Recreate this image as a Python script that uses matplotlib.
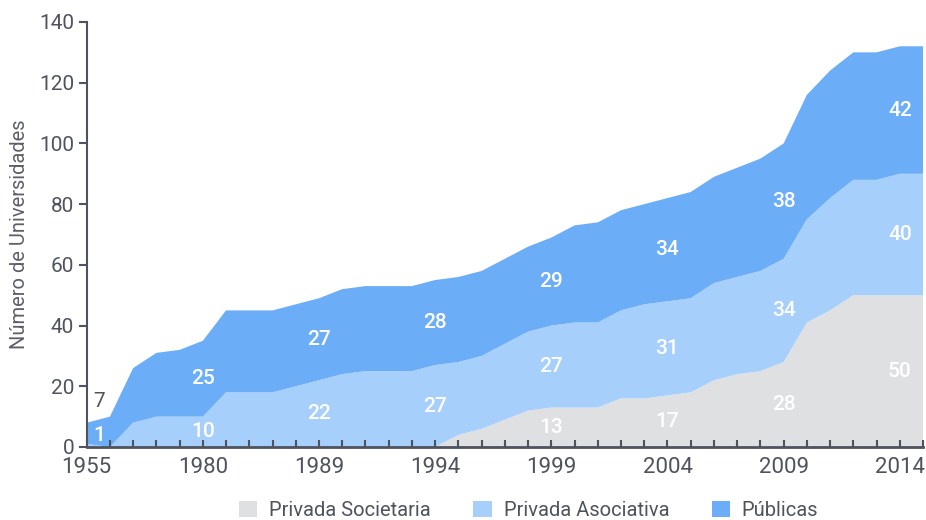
import matplotlib
matplotlib.use('Agg')
import matplotlib.pyplot as plt
from matplotlib.patches import Patch

plt.rcParams['font.family'] = ['Roboto', 'DejaVu Sans']

# one point per category along x, only every fifth one gets a label
tick_labels = ['1955', '1980', '1989', '1994', '1999', '2004', '2009', '2014']

series_names = ['Privada Societaria', 'Privada Asociativa', 'Públicas']
societaria = [0, 0, 0, 0, 0, 0, 0, 0, 0, 0, 0, 0, 0, 0, 0, 0,
              4, 6, 9, 12, 13, 13, 13, 16, 16, 17, 18, 22, 24, 25, 28,
              41, 45, 50, 50, 50, 50]
asociativa = [1, 0, 8, 10, 10, 10, 18, 18, 18, 20, 22, 24, 25, 25, 25, 27,
              24, 24, 25, 26, 27, 28, 28, 29, 31, 31, 31, 32, 32, 33, 34,
              34, 37, 38, 38, 40, 40]
publicas = [7, 10, 18, 21, 22, 25, 27, 27, 27, 27, 27, 28, 28, 28, 28, 28,
            28, 28, 28, 28, 29, 32, 33, 33, 33, 34, 35, 35, 36, 37, 38,
            41, 42, 42, 42, 42, 42]

colors = ['#dfe0e2', '#a6cffc', '#6baef7']
axis_color = '#4e535e'

fig = plt.figure(figsize=(9.26, 5.2), dpi=100)
ax = fig.add_axes([0.0936, 0.1404, 0.9032, 0.8173])

x = list(range(len(publicas)))
ax.stackplot(x, societaria, asociativa, publicas, colors=colors, linewidth=0)

ax.set_xlim(0, len(x) - 1)
ax.set_ylim(0, 140)

# value labels every fifth point, centred in each band
label_idx = list(range(0, len(x) - 1, 5))
for i in label_idx:
    bottom = 0
    for s in (societaria, asociativa, publicas):
        v = s[i]
        if v > 0 and i > 0:
            ax.text(i, bottom + v / 2, str(v), color='white', fontsize=15,
                    ha='center', va='center', fontweight='medium')
        bottom += v
# first point is too thin for labels inside
ax.text(0.55, 0.6, str(asociativa[0]), color='white', fontsize=15,
        ha='center', va='bottom', fontweight='medium')
ax.text(0.55, asociativa[0] + publicas[0] + 7, str(publicas[0]), color=axis_color,
        fontsize=15, ha='center', va='center')

ax.set_xticks(label_idx)
ax.set_xticklabels(tick_labels)
ax.set_xticks(x, minor=True)
ax.tick_params(axis='x', which='both', direction='in', length=5, width=1.5,
               color=axis_color, labelcolor=axis_color, labelsize=16, pad=7)
ax.set_yticks(range(0, 141, 20))
ax.tick_params(axis='y', direction='out', length=6, width=1.5,
               color=axis_color, labelcolor=axis_color, labelsize=15, pad=3)

for side in ('top', 'right'):
    ax.spines[side].set_visible(False)
ax.spines['left'].set_color(axis_color)
ax.spines['left'].set_linewidth(1.5)
ax.spines['bottom'].set_color(axis_color)
ax.spines['bottom'].set_linewidth(2)

ax.set_ylabel('Número de Universidades', color='#5a5f69', fontsize=14.5, labelpad=7)

handles = [Patch(facecolor=c, edgecolor='none') for c in colors]
fig.legend(handles, series_names, loc='lower center', bbox_to_anchor=(0.571, -0.035),
           ncol=3, frameon=False, handlelength=0.9, handleheight=0.9,
           handletextpad=0.6, columnspacing=2.1, fontsize=14.5, labelcolor=axis_color)

fig.savefig('out.png', dpi=100)
